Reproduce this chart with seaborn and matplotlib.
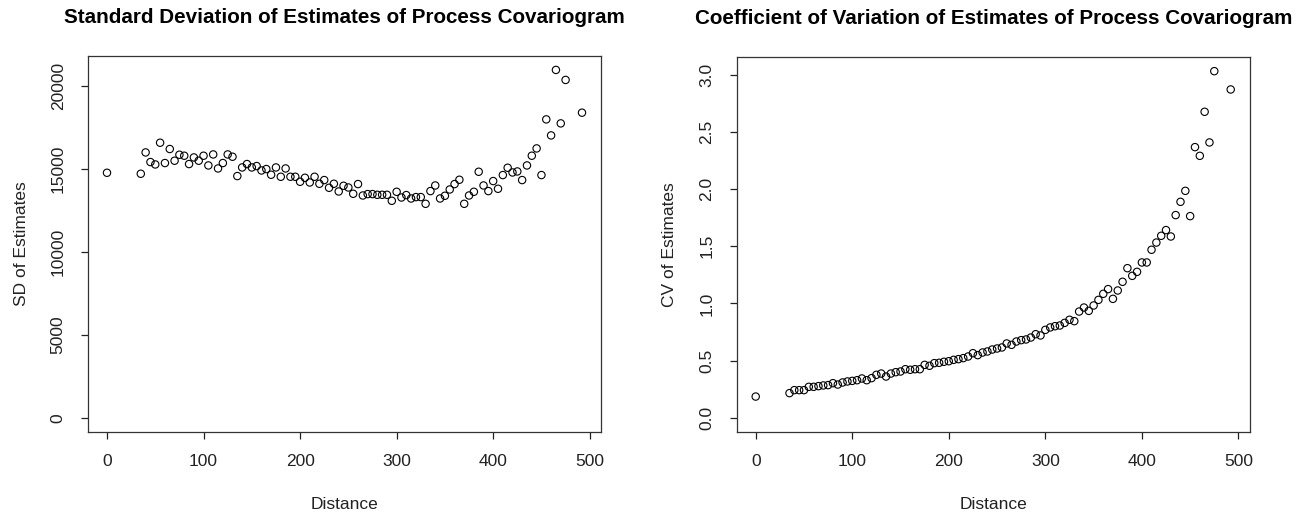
import matplotlib
matplotlib.use("Agg")
import matplotlib.pyplot as plt
import numpy as np
import seaborn as sns
import pandas as pd

# lag distances (same for both panels)
distance = [0, 35, 40, 45, 50, 55, 60, 65, 70, 75, 80, 85, 90, 95, 100,
            105, 110, 115, 120, 125, 130, 135, 140, 145, 150, 155, 160, 165, 170, 175,
            180, 185, 190, 195, 200, 205, 210, 215, 220, 225, 230, 235, 240, 245, 250,
            255, 260, 265, 270, 275, 280, 285, 290, 295, 300, 305, 310, 315, 320, 325,
            330, 335, 340, 345, 350, 355, 360, 365, 370, 375, 380, 385, 390, 395, 400,
            405, 410, 415, 420, 425, 430, 435, 440, 445, 450, 455, 460, 465, 470, 475,
            492]

sd_est = [14785, 14725, 16012, 15432, 15287, 16598, 15372, 16218, 15511, 15873,
          15813, 15311, 15710, 15511, 15813, 15227, 15891, 15045, 15372, 15891,
          15752, 14586, 15106, 15311, 15106, 15190, 14924, 15009, 14665, 15106,
          14544, 15045, 14544, 14544, 14242, 14483, 14199, 14544, 14121, 14344,
          13879, 14121, 13656, 14000, 13897, 13517, 14103, 13414, 13498, 13498,
          13456, 13456, 13456, 13094, 13637, 13293, 13438, 13233, 13317, 13317,
          12912, 13680, 14018, 13233, 13396, 13776, 14103, 14363, 12912, 13414,
          13637, 14846, 14018, 13680, 14284, 13819, 14646, 15088, 14804, 14864,
          14344, 15227, 15813, 16254, 14646, 18006, 17039, 20991, 17764, 20387,
          18411]

cv_est = [0.186, 0.216, 0.242, 0.242, 0.242, 0.271, 0.271, 0.277, 0.283, 0.286,
          0.303, 0.291, 0.309, 0.318, 0.323, 0.329, 0.344, 0.329, 0.347, 0.376,
          0.387, 0.361, 0.387, 0.399, 0.405, 0.425, 0.420, 0.425, 0.425, 0.463,
          0.455, 0.478, 0.481, 0.490, 0.495, 0.507, 0.513, 0.522, 0.536, 0.565,
          0.548, 0.571, 0.580, 0.597, 0.606, 0.615, 0.650, 0.638, 0.667, 0.679,
          0.685, 0.702, 0.731, 0.720, 0.769, 0.790, 0.801, 0.807, 0.830, 0.857,
          0.845, 0.929, 0.964, 0.935, 0.982, 1.031, 1.084, 1.125, 1.040, 1.113,
          1.189, 1.308, 1.241, 1.276, 1.358, 1.358, 1.469, 1.532, 1.591, 1.641,
          1.585, 1.772, 1.888, 1.984, 1.763, 2.366, 2.290, 2.675, 2.407, 3.030,
          2.870]

x_ticks = [0, 100, 200, 300, 400, 500]
sd_ticks = [0, 5000, 10000, 15000, 20000]
cv_ticks = [0.0, 0.5, 1.0, 1.5, 2.0, 2.5, 3.0]

df = pd.DataFrame({"Distance": distance, "SD": sd_est, "CV": cv_est})

sns.set_style("ticks")
plt.rcParams['font.family'] = ['Liberation Sans', 'DejaVu Sans']

fig = plt.figure(figsize=(13.07, 5.16), dpi=100)
ax1 = fig.add_axes([88/1307, 84.3/516, 513/1307, 375.7/516])
ax2 = fig.add_axes([736.7/1307, 84.3/516, 513/1307, 374.4/516])


def r_limits(lo, hi):
    pad = (hi - lo) * 0.04
    return lo - pad, hi + pad


def style_axis(ax, yticks, ylabels, ylabel, title):
    ax.set_xticks(x_ticks)
    ax.set_xticklabels([str(t) for t in x_ticks])
    ax.set_yticks(yticks)
    ax.set_yticklabels(ylabels, rotation=90, va='center')
    ax.tick_params(direction='out', length=5, width=0.9, colors='#222222',
                   labelsize=12.5, pad=11)
    for sp in ax.spines.values():
        sp.set_visible(True)
        sp.set_linewidth(0.9)
        sp.set_color('#333333')
    ax.set_xlabel('Distance', fontsize=12.5, labelpad=20, color='#222222')
    ax.set_ylabel(ylabel, fontsize=12.5, labelpad=16, color='#222222')
    ax.set_title(title, fontsize=14.9, fontweight='bold', pad=24, color='black')


sns.scatterplot(data=df, x="Distance", y="SD", ax=ax1, marker='o', s=28,
                facecolors='none', edgecolor='black', linewidth=0.8)
ax1.set_xlim(*r_limits(0, max(distance)))
ax1.set_ylim(*r_limits(0, max(sd_est)))
style_axis(ax1, sd_ticks, [str(t) for t in sd_ticks], 'SD of Estimates',
           'Standard Deviation of Estimates of Process Covariogram')

sns.scatterplot(data=df, x="Distance", y="CV", ax=ax2, marker='o', s=28,
                facecolors='none', edgecolor='black', linewidth=0.8)
ax2.set_xlim(*r_limits(0, max(distance)))
ax2.set_ylim(*r_limits(0, max(cv_est)))
style_axis(ax2, cv_ticks, ['%.1f' % t for t in cv_ticks], 'CV of Estimates',
           'Coefficient of Variation of Estimates of Process Covariogram')

fig.savefig('out.png', dpi=100)
